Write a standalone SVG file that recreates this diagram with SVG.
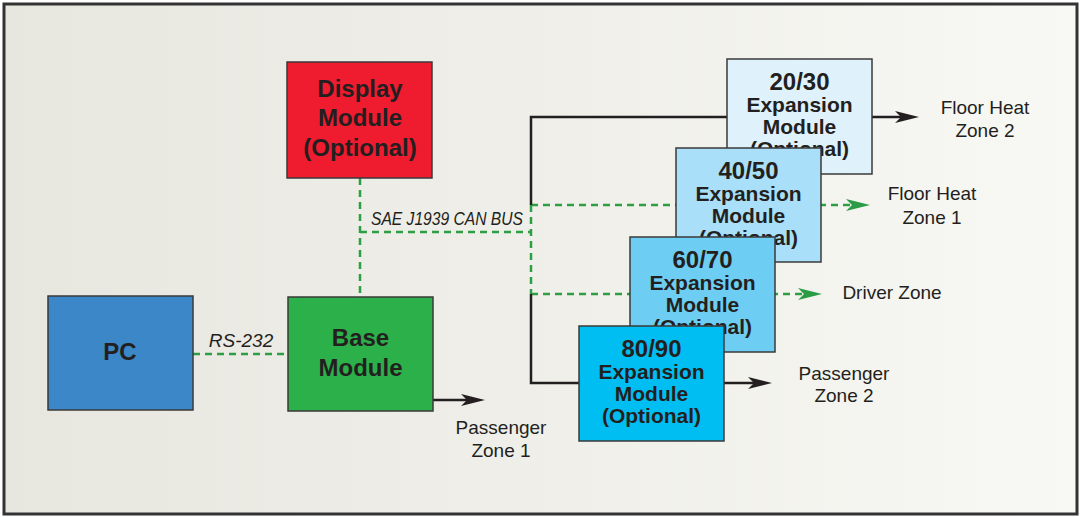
<svg xmlns="http://www.w3.org/2000/svg" width="1080" height="517" viewBox="0 0 1080 517">
<defs>
<linearGradient id="bg" x1="0" y1="0" x2="1" y2="0">
<stop offset="0" stop-color="#e7e6df"/>
<stop offset="1" stop-color="#f8f8f4"/>
</linearGradient>
<marker id="ab" markerUnits="userSpaceOnUse" markerWidth="26" markerHeight="14" refX="12" refY="6" orient="auto" viewBox="0 0 26 14">
<path d="M0,0 L24,6 L0,12 L6,6 Z" fill="#231f20"/>
</marker>
<marker id="ag" markerUnits="userSpaceOnUse" markerWidth="26" markerHeight="14" refX="12" refY="6" orient="auto" viewBox="0 0 26 14">
<path d="M0,0 L24,6 L0,12 L6,6 Z" fill="#2a9c45"/>
</marker>
</defs>
<style>
.box{stroke:#3a3a3a;stroke-width:1.5}
.t{font-family:"Liberation Sans",Arial,sans-serif;font-weight:bold;fill:#231f20;text-anchor:middle}
.big{font-size:24px}
.mid{font-size:21px}
.lbl{font-family:"Liberation Sans",Arial,sans-serif;font-size:19px;fill:#231f20;text-anchor:middle}
.it{font-family:"Liberation Sans",Arial,sans-serif;font-style:italic;fill:#231f20}
.blk{fill:none;stroke:#231f20;stroke-width:2.5}
.grn{fill:none;stroke:#2e9e45;stroke-width:2.5;stroke-dasharray:7 5}
</style>
<rect x="4" y="4" width="1073" height="510" fill="url(#bg)" stroke="#333" stroke-width="3"/>
<g id="connectors">
<path class="grn" d="M193,354 H288"/>
<path class="grn" d="M360,178 V297"/>
<path class="grn" d="M360,232 H531"/>
<path class="grn" d="M531,205 V294"/>
<path class="grn" d="M531,205 H858" marker-end="url(#ag)"/>
<path class="grn" d="M531,294 H810" marker-end="url(#ag)"/>
<path class="blk" d="M531,205 V117 H907" marker-end="url(#ab)"/>
<path class="blk" d="M531,294 V383 H760" marker-end="url(#ab)"/>
<path class="blk" d="M433,400 H473" marker-end="url(#ab)"/>
<text class="it" x="241" y="347" font-size="19" text-anchor="middle">RS-232</text>
<text class="it" x="371" y="225" font-size="18" textLength="152" lengthAdjust="spacingAndGlyphs">SAE J1939 CAN BUS</text>
</g>
<g id="display">
<rect class="box" x="287" y="62" width="145" height="116" fill="#ee1c2e"/>
<text class="t big" x="360" y="97">Display</text>
<text class="t big" x="360" y="126">Module</text>
<text class="t big" x="360" y="156">(Optional)</text>
</g>
<g id="pc">
<rect class="box" x="48" y="296" width="145" height="114" fill="#3b87c8"/>
<text class="t big" x="120" y="360">PC</text>
</g>
<g id="base">
<rect class="box" x="288" y="297" width="145" height="114" fill="#2cb04a"/>
<text class="t big" x="360.5" y="346">Base</text>
<text class="t big" x="360.5" y="376">Module</text>
</g>
<g id="exp2030">
<rect class="box" x="727" y="59" width="145" height="115" fill="#dff1fb"/>
<text class="t big" x="799.5" y="90">20/30</text>
<text class="t mid" x="799.5" y="112">Expansion</text>
<text class="t mid" x="799.5" y="134">Module</text>
<text class="t mid" x="799.5" y="156">(Optional)</text>
</g>
<g id="exp4050">
<rect class="box" x="676" y="148" width="145" height="114" fill="#a9dff8"/>
<text class="t big" x="748.5" y="179">40/50</text>
<text class="t mid" x="748.5" y="201">Expansion</text>
<text class="t mid" x="748.5" y="223">Module</text>
<text class="t mid" x="748.5" y="245">(Optional)</text>
</g>
<g id="exp6070">
<rect class="box" x="630" y="237" width="145" height="115" fill="#6dcdf3"/>
<text class="t big" x="702.5" y="268">60/70</text>
<text class="t mid" x="702.5" y="290">Expansion</text>
<text class="t mid" x="702.5" y="312">Module</text>
<text class="t mid" x="702.5" y="334">(Optional)</text>
</g>
<g id="exp8090">
<rect class="box" x="579" y="326" width="145" height="115" fill="#00bef2"/>
<text class="t big" x="651.5" y="357">80/90</text>
<text class="t mid" x="651.5" y="379">Expansion</text>
<text class="t mid" x="651.5" y="401">Module</text>
<text class="t mid" x="651.5" y="423">(Optional)</text>
</g>
<g id="labels">
<text class="lbl" x="985" y="114">Floor Heat</text>
<text class="lbl" x="985" y="137">Zone 2</text>
<text class="lbl" x="932" y="200">Floor Heat</text>
<text class="lbl" x="932" y="224">Zone 1</text>
<text class="lbl" x="892" y="299">Driver Zone</text>
<text class="lbl" x="844" y="380">Passenger</text>
<text class="lbl" x="844" y="402">Zone 2</text>
<text class="lbl" x="501" y="434">Passenger</text>
<text class="lbl" x="501" y="457">Zone 1</text>
</g>
</svg>
